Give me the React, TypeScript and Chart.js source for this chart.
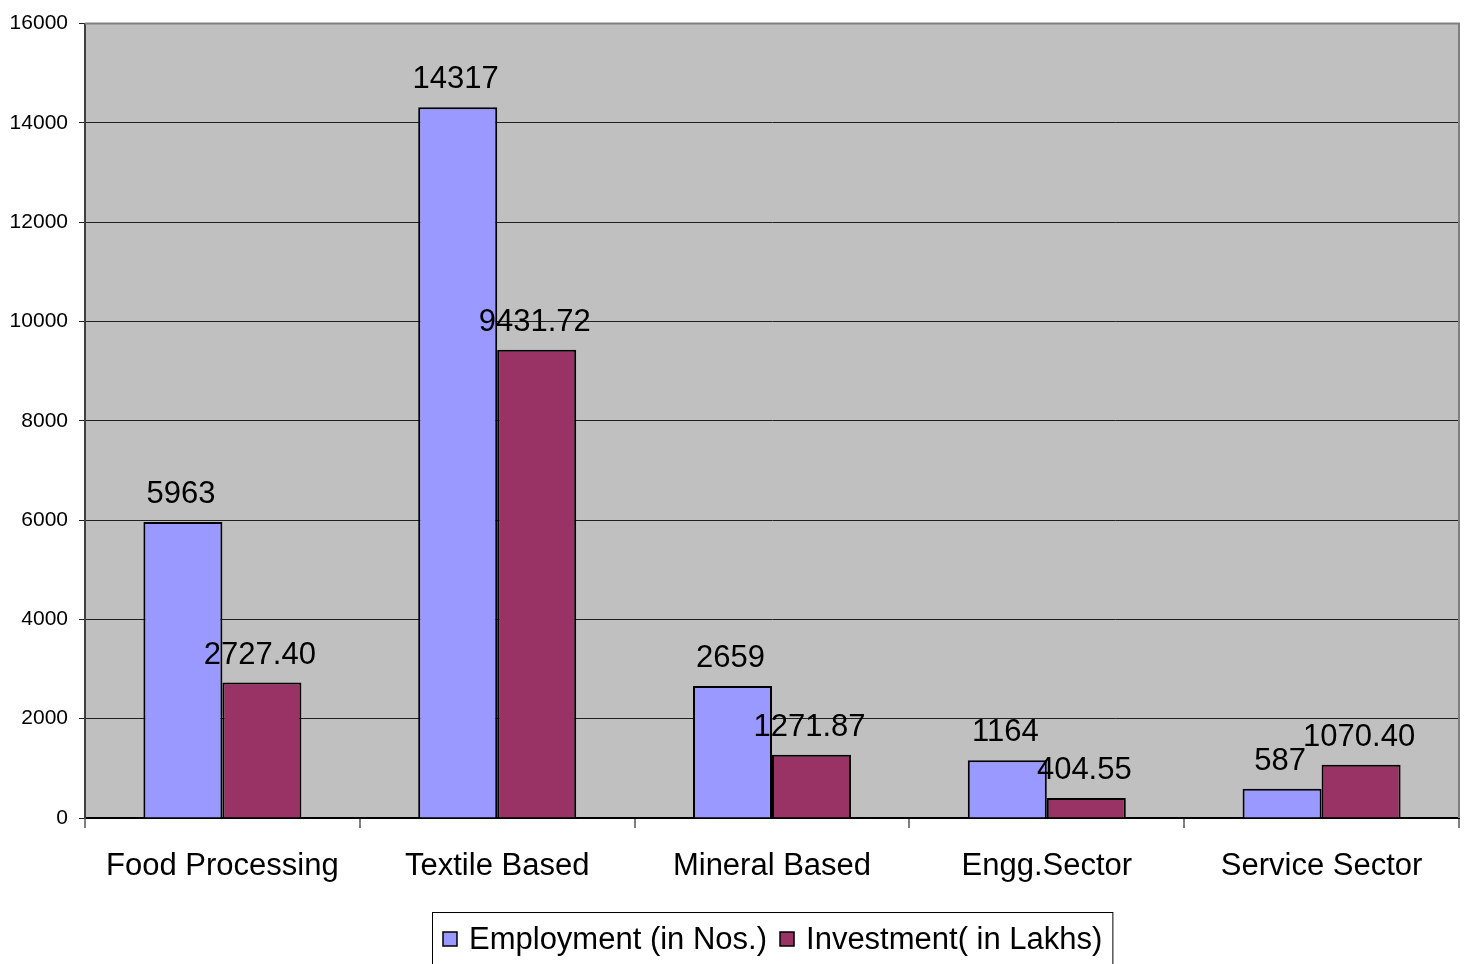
import React, { useEffect, useRef } from "react";
import { Chart, registerables } from "chart.js";

Chart.register(...registerables);

const categories = ["Food Processing", "Textile Based", "Mineral Based", "Engg.Sector", "Service Sector"];
const employment = [5963, 14317, 2659, 1164, 587];
const investment = [2727.4, 9431.72, 1271.87, 404.55, 1070.4];
const employmentLabels = ["5963", "14317", "2659", "1164", "587"];
const investmentLabels = ["2727.40", "9431.72", "1271.87", "404.55", "1070.40"];
const seriesNames = ["Employment (in Nos.)", "Investment( in Lakhs)"];
const seriesColors = ["#9999FF", "#993366"];
const yMin = 0;
const yMax = 16000;
const yStep = 2000;

const FONT = "'Liberation Sans', Arial, sans-serif";

const bgPlugin = {
  id: "plotBg",
  beforeDraw(chart: any) {
    const { ctx, chartArea: a } = chart;
    ctx.save();
    ctx.fillStyle = "#C0C0C0";
    ctx.fillRect(a.left, a.top, a.right - a.left, a.bottom - a.top);
    ctx.restore();
  },
  afterDraw(chart: any) {
    const { ctx, chartArea: a } = chart;
    ctx.save();
    ctx.strokeStyle = "#808080";
    ctx.lineWidth = 2;
    ctx.beginPath();
    ctx.moveTo(a.left, a.top);
    ctx.lineTo(a.right, a.top);
    ctx.lineTo(a.right, a.bottom);
    ctx.stroke();
    ctx.restore();
  },
};

const labelPlugin = {
  id: "barLabels",
  afterDatasetsDraw(chart: any) {
    const { ctx } = chart;
    const texts = [employmentLabels, investmentLabels];
    ctx.save();
    ctx.font = `31px ${FONT}`;
    ctx.fillStyle = "#000";
    ctx.textAlign = "center";
    ctx.textBaseline = "alphabetic";
    chart.data.datasets.forEach((_: any, di: number) => {
      const meta = chart.getDatasetMeta(di);
      meta.data.forEach((el: any, i: number) => {
        ctx.fillText(texts[di][i], el.x - 2, el.y - 19);
      });
    });
    ctx.restore();
  },
};

const legendPlugin = {
  id: "customLegend",
  afterDraw(chart: any) {
    const { ctx, chartArea: a } = chart;
    ctx.save();
    ctx.font = `31px ${FONT}`;
    const sq = 14;
    const padL = 11;
    const gap = 12;
    const itemGap = 13;
    const padR = 10;
    const widths = seriesNames.map((n) => ctx.measureText(n).width);
    const total = padL + padR + widths.reduce((s, w) => s + sq + gap + w, 0) + itemGap * (seriesNames.length - 1);
    const cx = (a.left + a.right) / 2;
    const left = Math.round(cx - total / 2);
    const top = 912;
    const cy = 939;
    ctx.strokeStyle = "#000";
    ctx.lineWidth = 1;
    ctx.strokeRect(left + 0.5, top + 0.5, total, 70);
    let x = left + padL;
    ctx.textBaseline = "middle";
    ctx.textAlign = "left";
    seriesNames.forEach((n, i) => {
      ctx.fillStyle = seriesColors[i];
      ctx.fillRect(x, cy - sq / 2, sq, sq);
      ctx.strokeStyle = "#000";
      ctx.lineWidth = 1.5;
      ctx.strokeRect(x, cy - sq / 2, sq, sq);
      x += sq + gap;
      ctx.fillStyle = "#000";
      ctx.fillText(n, x, cy + 1);
      x += widths[i] + itemGap;
    });
    ctx.restore();
  },
};

export default function App() {
  const ref = useRef<HTMLCanvasElement | null>(null);
  useEffect(() => {
    if (!ref.current) return;
    const chart = new Chart(ref.current, {
      type: "bar",
      data: {
        labels: categories,
        datasets: [
          {
            label: seriesNames[0],
            data: employment,
            backgroundColor: seriesColors[0],
            borderColor: "#000",
            borderWidth: 2,
            borderSkipped: "bottom",
          },
          {
            label: seriesNames[1],
            data: investment,
            backgroundColor: seriesColors[1],
            borderColor: "#000",
            borderWidth: 2,
            borderSkipped: "bottom",
          },
        ],
      },
      options: {
        responsive: false,
        animation: false,
        devicePixelRatio: 1,
        layout: { padding: { left: 0, right: 14, top: 22, bottom: 0 } },
        datasets: { bar: { categoryPercentage: 0.575, barPercentage: 1 } },
        plugins: {
          legend: { display: false },
          tooltip: { enabled: false },
        },
        scales: {
          x: {
            offset: true,
            grid: {
              offset: true,
              drawOnChartArea: false,
              drawTicks: true,
              tickLength: 10,
              color: "#808080",
              lineWidth: 2,
            },
            border: { color: "#000", width: 2 },
            ticks: {
              color: "#000",
              font: { family: FONT, size: 31 },
              padding: 20,
              maxRotation: 0,
              autoSkip: false,
            },
            afterFit(scale: any) {
              scale.height = 146;
            },
          },
          y: {
            min: yMin,
            max: yMax,
            grid: {
              color: "#202020",
              lineWidth: 1,
              tickLength: 6,
            },
            border: { color: "#404040", width: 2 },
            ticks: {
              stepSize: yStep,
              color: "#000",
              font: { family: FONT, size: 21 },
              padding: 11,
              callback: (v: any) => String(v),
            },
            afterFit(scale: any) {
              scale.width = 85;
            },
          },
        },
      },
      plugins: [bgPlugin, labelPlugin, legendPlugin],
    });
    return () => chart.destroy();
  }, []);
  return (
    <div style={{ position: "absolute", left: 0, top: 0, width: 1473, height: 964, background: "#fff" }}>
      <canvas ref={ref} width={1473} height={964} style={{ display: "block" }} />
    </div>
  );
}
